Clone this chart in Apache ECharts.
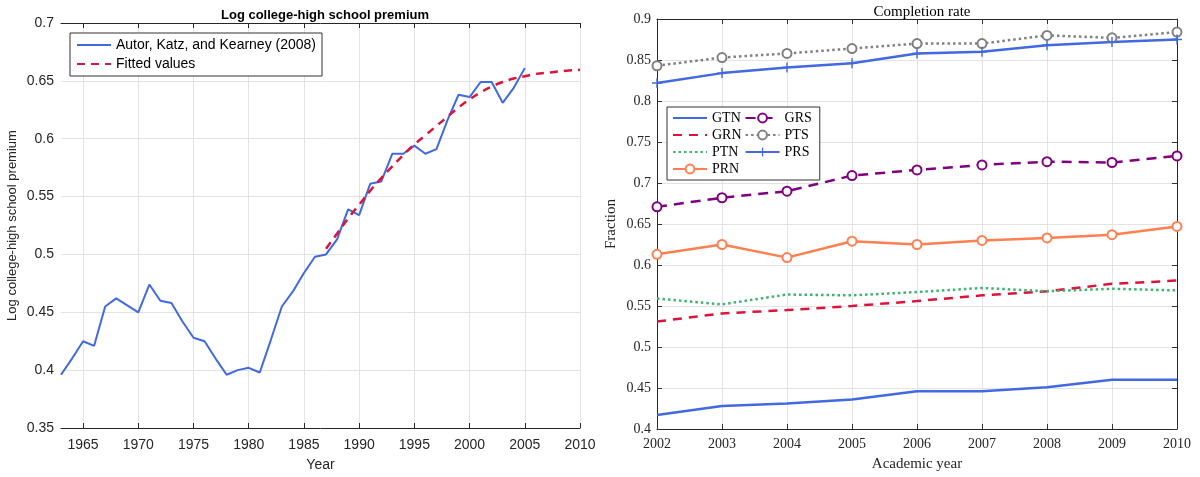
<!DOCTYPE html>
<html>
<head>
<meta charset="utf-8">
<script src="https://cdn.jsdelivr.net/npm/echarts@6/dist/echarts.min.js"></script>
<style>
  html, body { margin: 0; padding: 0; background: #fff; }
  #main { width: 1200px; height: 477px; }
</style>
</head>
<body>
<div id="main"></div>
<script>
// left panel: log college-high school premium
var years = [];
for (var y = 1963; y <= 2010; y++) years.push(String(y));
var premium = [0.396, 0.410, 0.425, 0.421, 0.455, 0.462, 0.456, 0.450, 0.474, 0.460,
  0.458, 0.442, 0.428, 0.425, 0.410, 0.396, 0.400, 0.402, 0.398, 0.426,
  0.455, 0.468, 0.484, 0.498, 0.500, 0.513, 0.539, 0.534, 0.561, 0.563,
  0.587, 0.587, 0.594, 0.587, 0.591, 0.616, 0.638, 0.636, 0.649, 0.649,
  0.631, 0.644, 0.661];
var fittedStart = 1987;
var fitted = [0.505, 0.518, 0.531, 0.543, 0.555, 0.566, 0.576, 0.586, 0.595, 0.603,
  0.611, 0.619, 0.627, 0.634, 0.640, 0.645, 0.649, 0.652, 0.654, 0.656,
  0.657, 0.658, 0.659, 0.6595];

// right panel: completion rate
var acYears = [2002, 2003, 2004, 2005, 2006, 2007, 2008, 2009, 2010];
var GTN = [0.417, 0.428, 0.431, 0.436, 0.446, 0.446, 0.451, 0.460, 0.460];
var GRN = [0.531, 0.541, 0.545, 0.550, 0.556, 0.563, 0.568, 0.577, 0.581];
var PTN = [0.559, 0.552, 0.564, 0.563, 0.567, 0.572, 0.568, 0.571, 0.569];
var PRN = [0.613, 0.625, 0.609, 0.629, 0.625, 0.630, 0.633, 0.637, 0.647];
var GRS = [0.671, 0.682, 0.690, 0.709, 0.716, 0.722, 0.726, 0.725, 0.733];
var PTS = [0.843, 0.853, 0.858, 0.864, 0.870, 0.870, 0.880, 0.877, 0.884];
var PRS = [0.822, 0.834, 0.841, 0.846, 0.858, 0.860, 0.868, 0.872, 0.875];

var sans = "Liberation Sans";
var serif = "Liberation Serif";

var fittedData = years.map(function (yr) {
  var i = Number(yr) - fittedStart;
  return i >= 0 && i < fitted.length ? fitted[i] : null;
});
var pairs = function (vals) {
  return vals.map(function (v, i) { return [acYears[i], v]; });
};
var every5 = function (idx, val) { return Number(val) % 5 === 0; };
var plusSymbol = "path://M4.3,0 H5.7 V4.3 H10 V5.7 H5.7 V10 H4.3 V5.7 H0 V4.3 H4.3 Z";
// line-only legend entries: hide the marker the legend would add
var lineOnly = function (name) { return { name: name, itemStyle: { opacity: 0 } }; };

var boxAxis = { lineStyle: { color: "#262626", width: 1 } };
var leftTick = { inside: true, length: 5, lineStyle: { color: "#262626" } };
var rightTick = { inside: true, length: 5, lineStyle: { color: "#333" } };

var chart = echarts.init(document.getElementById("main"));
chart.setOption({
  animation: false,
  title: [
    {
      text: "Log college-high school premium",
      left: 320, top: 4, textAlign: "center",
      textStyle: { fontFamily: sans, fontSize: 13, fontWeight: "bold", color: "#000" }
    },
    {
      text: "Completion rate",
      left: 917, top: 0, textAlign: "center",
      textStyle: { fontFamily: serif, fontSize: 15, fontWeight: "normal", color: "#000" }
    }
  ],
  legend: [
    {
      data: [lineOnly("Autor, Katz, and Kearney (2008)"), lineOnly("Fitted values")],
      orient: "vertical",
      left: 70, top: 33,
      itemWidth: 34, itemHeight: 10, itemGap: 5,
      padding: [5, 6, 5, 6],
      borderColor: "#333", borderWidth: 1, borderRadius: 0,
      backgroundColor: "#fff",
      textStyle: { fontFamily: sans, fontSize: 14, color: "#000" }
    },
    {
      data: [lineOnly("GTN"), lineOnly("GRN"), lineOnly("PTN"), "PRN", "GRS", "PTS", "PRS"],
      orient: "vertical",
      left: 667, top: 107,
      height: 70,
      itemWidth: 34, itemHeight: 11, itemGap: 3,
      padding: [4, 8, 4, 5],
      borderColor: "#333", borderWidth: 1, borderRadius: 0,
      backgroundColor: "#fff",
      textStyle: { fontFamily: serif, fontSize: 14, color: "#000" }
    }
  ],
  grid: [
    { left: 61, top: 23, width: 519, height: 409 },
    { left: 657, top: 19, width: 520, height: 411 }
  ],
  xAxis: [
    {
      type: "category", gridIndex: 0, data: years, boundaryGap: false,
      name: "Year", nameLocation: "middle", nameGap: 30,
      nameTextStyle: { fontFamily: sans, fontSize: 14, color: "#262626" },
      axisLine: boxAxis,
      axisTick: Object.assign({ interval: every5 }, leftTick),
      axisLabel: { interval: every5, fontFamily: sans, fontSize: 14, color: "#262626", margin: 10 },
      splitLine: { show: true, interval: every5, lineStyle: { color: "#e3e3e3" } }
    },
    {
      type: "category", gridIndex: 0, data: years, boundaryGap: false, position: "top",
      axisLine: boxAxis,
      axisTick: Object.assign({ interval: every5 }, leftTick),
      axisLabel: { show: false }, splitLine: { show: false }
    },
    {
      type: "value", gridIndex: 1, min: 2002, max: 2010, interval: 1,
      name: "Academic year", nameLocation: "middle", nameGap: 28,
      nameTextStyle: { fontFamily: serif, fontSize: 15, color: "#262626" },
      axisLine: boxAxis, axisTick: rightTick,
      axisLabel: {
        fontFamily: serif, fontSize: 14, color: "#262626", margin: 8,
        formatter: function (v) { return String(v); }
      },
      splitLine: { show: true, lineStyle: { color: "#e3e3e3" } }
    },
    {
      type: "value", gridIndex: 1, min: 2002, max: 2010, interval: 1, position: "top",
      axisLine: boxAxis, axisTick: rightTick,
      axisLabel: { show: false }, splitLine: { show: false }
    }
  ],
  yAxis: [
    {
      type: "value", gridIndex: 0, min: 0.35, max: 0.7, interval: 0.05,
      name: "Log college-high school premium", nameLocation: "middle", nameGap: 42,
      nameTextStyle: { fontFamily: sans, fontSize: 13, color: "#262626" },
      axisLine: boxAxis, axisTick: leftTick,
      axisLabel: { fontFamily: sans, fontSize: 14, color: "#262626", margin: 7 },
      splitLine: { show: true, lineStyle: { color: "#e3e3e3" } }
    },
    {
      type: "value", gridIndex: 0, min: 0.35, max: 0.7, interval: 0.05, position: "right",
      axisLine: boxAxis, axisTick: leftTick,
      axisLabel: { show: false }, splitLine: { show: false }
    },
    {
      type: "value", gridIndex: 1, min: 0.4, max: 0.9, interval: 0.05,
      name: "Fraction", nameLocation: "middle", nameGap: 38,
      nameTextStyle: { fontFamily: serif, fontSize: 15, color: "#262626" },
      axisLine: boxAxis, axisTick: rightTick,
      axisLabel: { fontFamily: serif, fontSize: 14, color: "#262626", margin: 6 },
      splitLine: { show: true, lineStyle: { color: "#e3e3e3" } }
    },
    {
      type: "value", gridIndex: 1, min: 0.4, max: 0.9, interval: 0.05, position: "right",
      axisLine: boxAxis, axisTick: rightTick,
      axisLabel: { show: false }, splitLine: { show: false }
    }
  ],
  series: [
    {
      name: "Autor, Katz, and Kearney (2008)", type: "line",
      xAxisIndex: 0, yAxisIndex: 0, data: premium,
      showSymbol: false, symbol: "none",
      lineStyle: { color: "#4169e1", width: 2 }, itemStyle: { color: "#4169e1" }
    },
    {
      name: "Fitted values", type: "line",
      xAxisIndex: 0, yAxisIndex: 0, data: fittedData,
      showSymbol: false, symbol: "none", smooth: true,
      lineStyle: { color: "#dc143c", width: 2.5, type: [8, 6] }, itemStyle: { color: "#dc143c" }
    },
    {
      name: "GTN", type: "line", xAxisIndex: 2, yAxisIndex: 2, data: pairs(GTN),
      symbol: "none",
      lineStyle: { color: "#4169e1", width: 2.5 }, itemStyle: { color: "#4169e1" }
    },
    {
      name: "GRN", type: "line", xAxisIndex: 2, yAxisIndex: 2, data: pairs(GRN),
      symbol: "none",
      lineStyle: { color: "#dc143c", width: 2.5, type: [9, 7] }, itemStyle: { color: "#dc143c" }
    },
    {
      name: "PTN", type: "line", xAxisIndex: 2, yAxisIndex: 2, data: pairs(PTN),
      symbol: "none",
      lineStyle: { color: "#3cb371", width: 2.5, type: [2.5, 3] }, itemStyle: { color: "#3cb371" }
    },
    {
      name: "PRN", type: "line", xAxisIndex: 2, yAxisIndex: 2, data: pairs(PRN),
      symbol: "emptyCircle", symbolSize: 9,
      lineStyle: { color: "#ff7f50", width: 2.5 },
      itemStyle: { color: "#ff7f50", borderColor: "#ff7f50", borderWidth: 2 }
    },
    {
      name: "GRS", type: "line", xAxisIndex: 2, yAxisIndex: 2, data: pairs(GRS),
      symbol: "emptyCircle", symbolSize: 9,
      lineStyle: { color: "#800080", width: 2.5, type: [10, 7] },
      itemStyle: { color: "#800080", borderColor: "#800080", borderWidth: 2 }
    },
    {
      name: "PTS", type: "line", xAxisIndex: 2, yAxisIndex: 2, data: pairs(PTS),
      symbol: "emptyCircle", symbolSize: 9,
      lineStyle: { color: "#808080", width: 2.5, type: [2.5, 3] },
      itemStyle: { color: "#808080", borderColor: "#808080", borderWidth: 2.5 }
    },
    {
      name: "PRS", type: "line", xAxisIndex: 2, yAxisIndex: 2, data: pairs(PRS),
      symbol: plusSymbol, symbolSize: 10,
      lineStyle: { color: "#4169e1", width: 2.5 },
      itemStyle: { color: "#4169e1" }
    }
  ]
});
</script>
</body>
</html>
